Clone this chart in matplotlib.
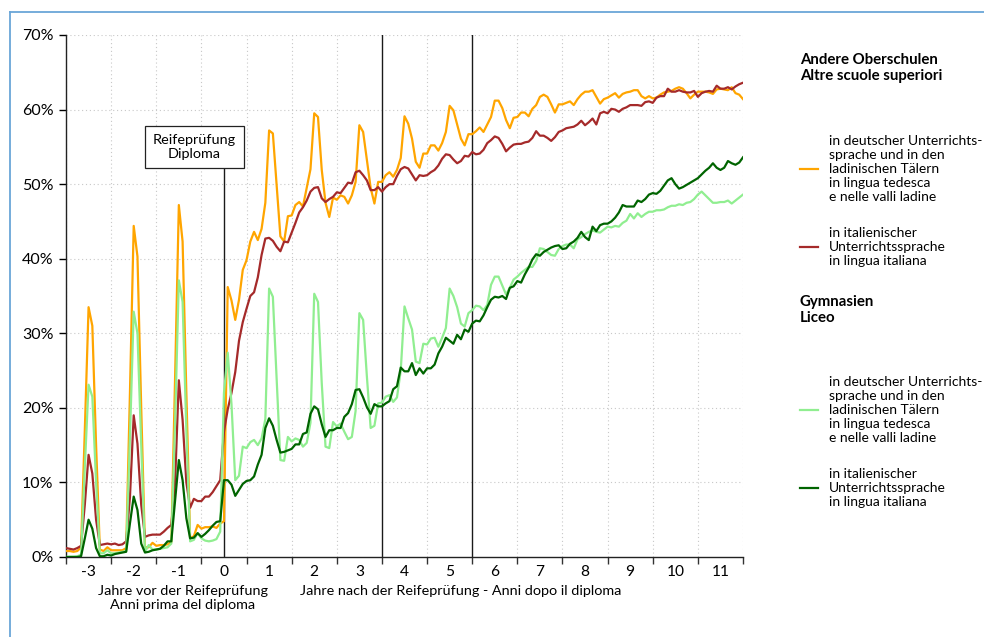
import matplotlib
matplotlib.use('Agg')
import matplotlib.pyplot as plt
import numpy as np
from matplotlib.lines import Line2D

plt.rcParams['font.family'] = ['Lato', 'DejaVu Sans']

# months relative to the diploma (Reifeprüfung)
months = list(range(-42, 139))

# Andere Oberschulen - deutsche Unterrichtssprache / ladinische Täler
andere_de = [0.8, 0.8, 0.7, 0.8, 1.3, 17, 33.5, 31.0, 15, 1.0,
             0.8, 1.3, 0.9, 0.9, 0.9, 0.9, 1.2, 22, 44.4, 40.3,
             20, 1.3, 1.3, 1.9, 1.5, 1.6, 1.6, 1.7, 2.0, 24,
             47.2, 42.3, 22, 2.5, 2.8, 4.3, 3.8, 4.0, 4.0, 4.1,
             3.9, 4.5,
             4.8,
             36.2, 34.4, 31.8, 34.5, 38.5, 39.8, 42.3, 43.6, 42.5, 44.0,
             47.5, 57.2, 56.8, 50.0, 43.0, 42.3, 45.7, 45.8, 47.2, 47.6,
             47.0, 49.5, 52.0, 59.5, 59.0, 51.9, 47.5, 45.6, 48.2, 47.9,
             48.5, 48.3, 47.4, 48.5, 50.3, 57.9, 57.0, 53.2, 49.5, 47.4,
             50.3, 50.3, 51.2, 51.6, 51.0, 51.9, 53.5, 59.1, 58.1, 56.1,
             53.0, 52.2, 54.1, 54.1, 55.2, 55.2, 54.5, 55.5, 57.0, 60.5,
             59.9, 58.0, 56.1, 55.2, 56.7, 56.7, 57.1, 57.6, 57.0, 58.0,
             59.0, 61.2, 61.2, 60.2, 58.6, 57.5, 58.9, 59.0, 59.6, 59.6,
             59.1, 60.1, 60.6, 61.7, 62.0, 61.7, 60.7, 59.6, 60.7, 60.7,
             60.9, 61.1, 60.6, 61.4, 62.0, 62.4, 62.4, 62.6, 61.7, 60.8,
             61.4, 61.6, 61.9, 62.2, 61.6, 62.1, 62.3, 62.4, 62.6, 62.6,
             61.8, 61.5, 61.8, 61.5, 61.6, 62.0, 62.3, 62.4, 62.5, 62.8,
             63.0, 62.8, 62.2, 61.5, 62.0, 62.4, 62.4, 62.4, 62.3, 62.1,
             62.7, 62.8, 62.7, 62.6, 63.0, 62.2, 62.0, 61.4]

# Andere Oberschulen - italienische Unterrichtssprache
andere_it = [1.2, 1.1, 1.0, 1.2, 1.5, 7.0, 13.7, 11.2, 5.0, 1.6,
             1.7, 1.8, 1.7, 1.8, 1.6, 1.7, 2.1, 8.0, 19.0, 15.2,
             7.0, 2.7, 2.9, 3.0, 3.0, 3.0, 3.4, 3.9, 4.3, 10.0,
             23.7, 18.4, 10.0, 6.6, 7.8, 7.5, 7.5, 8.1, 8.1, 8.7,
             9.5, 10.3,
             16.8,
             19.8, 22.0, 24.8, 29.0, 31.5, 33.3, 35.0, 35.5, 37.5, 40.5,
             42.7, 42.8, 42.4, 41.6, 41.0, 42.3, 42.2, 43.5, 44.8, 46.2,
             46.9, 47.8, 49.0, 49.5, 49.6, 48.1, 47.6, 48.0, 48.3, 48.9,
             48.8, 49.5, 50.2, 50.1, 51.6, 51.8, 51.2, 50.5, 49.2, 49.2,
             49.6, 49.0, 49.6, 50.0, 50.0, 51.1, 52.0, 52.3, 52.1, 51.3,
             50.5, 51.2, 51.1, 51.2, 51.6, 51.9, 52.5, 53.4, 54.0, 53.9,
             53.3, 52.8, 53.1, 53.8, 53.7, 54.3, 54.0, 54.1, 54.6, 55.5,
             55.9, 56.4, 56.2, 55.4, 54.4, 54.9, 55.3, 55.4, 55.4, 55.6,
             55.7, 56.2, 57.1, 56.5, 56.5, 56.2, 55.8, 56.3, 57.0, 57.2,
             57.5, 57.6, 57.7, 58.0, 58.5, 57.9, 58.3, 58.8, 58.0, 59.5,
             59.7, 59.5, 60.1, 60.0, 59.7, 60.1, 60.3, 60.6, 60.6, 60.6,
             60.5, 61.0, 61.1, 60.9, 61.6, 61.8, 61.8, 62.8, 62.4, 62.4,
             62.6, 62.4, 62.3, 62.3, 62.5, 61.7, 62.2, 62.4, 62.5, 62.4,
             63.2, 62.8, 62.8, 63.0, 62.7, 63.1, 63.4, 63.6]

# Gymnasien - deutsche Unterrichtssprache / ladinische Täler
liceo_de = [0.0, 0.05, 0.05, 0.1, 0.3, 12.0, 23.1, 21.5, 10.0, 0.5,
            0.5, 0.9, 0.5, 0.5, 0.6, 0.7, 0.8, 16.0, 32.9, 30.0,
            15.0, 0.7, 1.6, 1.0, 1.0, 1.1, 1.2, 1.3, 1.8, 18.0,
            37.1, 34.2, 17.0, 2.1, 2.3, 3.2, 2.5, 2.2, 2.1, 2.2,
            2.4, 3.4,
            22.0,
            27.4, 20.5, 10.3, 10.9, 14.8, 14.6, 15.4, 15.7, 15.0, 15.9,
            18.5, 36.0, 34.9, 24.0, 13.0, 12.9, 16.1, 15.5, 15.9, 15.7,
            14.8, 15.3, 18.0, 35.3, 34.2, 23.3, 14.8, 14.6, 18.1, 17.5,
            17.9, 16.8, 15.8, 16.1, 19.6, 32.7, 31.8, 24.2, 17.3, 17.6,
            20.6, 20.7, 21.5, 21.7, 20.8, 21.4, 25.0, 33.6, 32.0, 30.5,
            26.2, 26.0, 28.6, 28.5, 29.3, 29.4, 28.2, 29.4, 30.7, 36.0,
            35.0, 33.5, 31.3, 30.9, 32.7, 33.1, 33.7, 33.6, 33.1, 33.8,
            36.5, 37.6, 37.6, 36.4, 35.2, 36.1, 37.2, 37.6, 38.1, 38.5,
            38.9, 38.9, 39.7, 41.4, 41.3, 40.9, 40.5, 40.4, 41.3, 41.7,
            41.9, 41.9, 41.4, 42.6, 42.9, 43.3, 43.6, 43.8, 43.6, 43.5,
            43.9, 44.3, 44.2, 44.4, 44.3, 44.8, 45.1, 46.0, 45.4, 46.1,
            45.6, 46.0, 46.3, 46.3, 46.5, 46.5, 46.6, 46.9, 47.1, 47.1,
            47.3, 47.2, 47.5, 47.6, 48.0, 48.6, 49.0, 48.5, 48.0, 47.5,
            47.5, 47.6, 47.6, 47.8, 47.4, 47.8, 48.2, 48.6]

# Gymnasien - italienische Unterrichtssprache
liceo_it = [0.0, 0.0, 0.0, 0.0, 0.1, 2.5, 5.0, 3.8, 1.2, 0.1,
            0.1, 0.3, 0.2, 0.4, 0.5, 0.6, 0.7, 4.5, 8.1, 6.3,
            1.8, 0.6, 0.7, 0.9, 1.0, 1.1, 1.5, 2.1, 2.1, 7.5,
            13.0, 10.3, 5.2, 2.5, 2.6, 3.2, 2.7, 3.1, 3.6, 4.2,
            4.7, 4.8,
            10.3,
            10.3, 9.7, 8.2, 9.0, 9.8, 10.2, 10.3, 10.8, 12.4, 13.7,
            17.3, 18.6, 17.6, 15.7, 14.0, 14.1, 14.3, 14.5, 15.1, 15.1,
            16.5, 16.7, 19.2, 20.2, 19.8, 17.8, 16.1, 17.0, 17.0, 17.3,
            17.3, 18.8, 19.3, 20.5, 22.4, 22.5, 21.4, 20.1, 19.2, 20.5,
            20.2, 20.2, 20.6, 20.9, 22.5, 22.9, 25.4, 24.9, 24.9, 26.0,
            24.4, 25.3, 24.6, 25.3, 25.3, 25.8, 27.3, 28.2, 29.4, 29.0,
            28.6, 29.8, 29.2, 30.5, 30.2, 31.3, 31.7, 31.6, 32.4, 33.5,
            34.5, 34.9, 34.8, 35.0, 34.6, 36.1, 36.3, 37.0, 36.8, 37.9,
            38.8, 39.9, 40.6, 40.4, 40.9, 41.2, 41.5, 41.7, 41.8, 41.3,
            41.4, 42.0, 42.3, 42.8, 43.6, 42.9, 42.5, 44.3, 43.7, 44.5,
            44.7, 44.7, 45.0, 45.5, 46.2, 47.2, 47.0, 47.0, 47.0, 47.8,
            47.6, 48.0, 48.6, 48.8, 48.7, 49.1, 49.8, 50.5, 50.8, 50.0,
            49.4, 49.6, 49.9, 50.2, 50.5, 50.8, 51.3, 51.8, 52.2, 52.8,
            52.2, 51.9, 52.2, 53.1, 52.8, 52.6, 52.9, 53.6]

year_labels = ['-3', '-2', '-1', '0', '1', '2', '3', '4', '5', '6', '7', '8', '9', '10', '11']
y_ticks = [0, 10, 20, 30, 40, 50, 60, 70]
marker_years = [3.5, 5.5]
box_text = 'Reifeprüfung\nDiploma'
xlabel_before = 'Jahre vor der Reifeprüfung\nAnni prima del diploma'
xlabel_after = 'Jahre nach der Reifeprüfung - Anni dopo il diploma'
group_titles = ['Andere Oberschulen\nAltre scuole superiori', 'Gymnasien\nLiceo']
text_de = 'in deutscher Unterrichts-\nsprache und in den\nladinischen Tälern\nin lingua tedesca\ne nelle valli ladine'
text_it = 'in italienischer\nUnterrichtssprache\nin lingua italiana'

C_OR, C_RD, C_LG, C_DG = '#FFA500', '#A52A2A', '#90EE90', '#006400'

W, H = 984, 637
fig = plt.figure(figsize=(W / 100, H / 100), dpi=100)


def fx(p):
    return p / W


def fy(p):
    return 1 - p / H


# outer light-blue frame
fig.add_artist(Line2D([fx(10), fx(10)], [fy(12), 0], color='#6aa6d8', lw=1.3))
fig.add_artist(Line2D([fx(10), 1], [fy(12), fy(12)], color='#6aa6d8', lw=1.3))

ax = fig.add_axes([fx(66), fy(557), (743 - 66) / W, (557 - 35) / H])
x = np.array(months) / 12.0

for xv in np.arange(-3.5, 11.6, 1.0):
    if xv in marker_years:
        continue
    ax.axvline(xv, color='#c8c8c8', lw=0.8, ls=(0, (1, 2.5)), zorder=0.5)
for yv in y_ticks[1:]:
    ax.axhline(yv, color='#c8c8c8', lw=0.8, ls=(0, (1, 2.5)), zorder=0.5)

for xv in marker_years:
    ax.axvline(xv, color='#1a1a1a', lw=1.0, zorder=1.5)

ax.plot(x, andere_de, color=C_OR, lw=1.6, zorder=3)
ax.plot(x, andere_it, color=C_RD, lw=1.6, zorder=3.1)
ax.plot(x, liceo_de, color=C_LG, lw=1.6, zorder=3.2)
ax.plot(x, liceo_it, color=C_DG, lw=1.6, zorder=3.3)

# diploma marker line and box
ax.plot([0, 0], [0, 52.0], color='#1a1a1a', lw=1.0, zorder=2)
ax.text(-0.654, 55.0, box_text, ha='center', va='center', fontsize=10.4,
        linespacing=1.15, zorder=5,
        bbox=dict(boxstyle='square,pad=0.55', fc='white', ec='#222222', lw=0.9))

ax.set_xlim(-3.5, 11.5)
ax.set_ylim(0, 70)
ax.set_yticks(y_ticks)
ax.set_yticklabels([f'{v}%' for v in y_ticks], fontsize=11.5)
ax.set_xticks(np.arange(-3.5, 11.6, 1.0))
ax.set_xticklabels([])
ax.set_xticks(np.arange(-3, 12, 1.0), minor=True)
ax.set_xticklabels(year_labels, minor=True, fontsize=11.2)
ax.tick_params(axis='x', which='major', length=5, width=1, color='#333333')
ax.tick_params(axis='x', which='minor', length=0, pad=6)
ax.tick_params(axis='y', length=5, width=1, pad=4)
for s in ['top', 'right']:
    ax.spines[s].set_visible(False)
for s in ['left', 'bottom']:
    ax.spines[s].set_linewidth(1.0)
    ax.spines[s].set_color('#222222')

fig.text(fx(183), fy(598), xlabel_before, ha='center', va='center', fontsize=10.4, linespacing=1.15)
fig.text(fx(461), fy(591), xlabel_after, ha='center', va='center', fontsize=10.4)

# legend
fig.text(fx(800), fy(68), group_titles[0], ha='left', va='center', fontsize=10.8,
         fontweight='bold', linespacing=1.2)
fig.text(fx(800), fy(310), group_titles[1], ha='left', va='center', fontsize=10.8,
         fontweight='bold', linespacing=1.2)

entries = [(C_OR, 169, text_de), (C_RD, 247, text_it),
           (C_LG, 410, text_de), (C_DG, 488, text_it)]
for col, yc, txt in entries:
    fig.add_artist(Line2D([fx(800), fx(818)], [fy(yc), fy(yc)], color=col, lw=1.6))
    fig.text(fx(829), fy(yc), txt, ha='left', va='center', fontsize=10.0, linespacing=1.22)

fig.savefig('out.png', dpi=100)
